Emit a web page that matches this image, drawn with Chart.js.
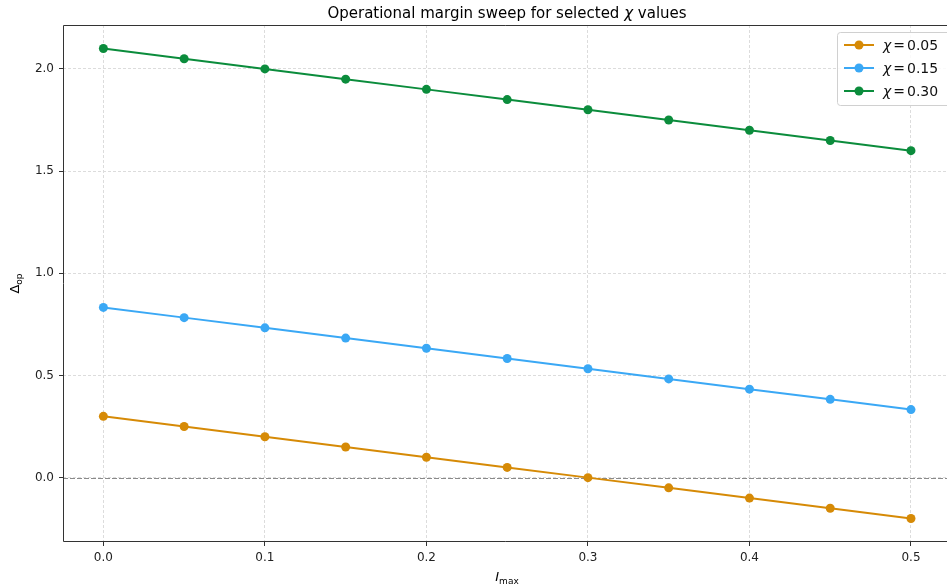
<!DOCTYPE html>
<html>
<head>
<meta charset="utf-8">
<script src="https://cdn.jsdelivr.net/npm/chart.js@4"></script>
<style>
  html, body { margin: 0; padding: 0; background: #fff; overflow: hidden; }
  #chart { display: block; }
</style>
</head>
<body>
<canvas id="chart" width="947" height="586"></canvas>
<script>
const iMax = [0, 0.05, 0.1, 0.15, 0.2, 0.25, 0.3, 0.35, 0.4, 0.45, 0.5];
const chiLabels = ['0.05', '0.15', '0.30'];
const chi005 = [0.30, 0.25, 0.20, 0.15, 0.10, 0.05, 0.00, -0.05, -0.10, -0.15, -0.20];
const chi015 = [0.833, 0.783, 0.733, 0.683, 0.633, 0.583, 0.533, 0.483, 0.433, 0.383, 0.333];
const chi030 = [2.10, 2.05, 2.00, 1.95, 1.90, 1.85, 1.80, 1.75, 1.70, 1.65, 1.60];
const xTicks = [0, 0.1, 0.2, 0.3, 0.4, 0.5];
const yTicks = [0, 0.5, 1.0, 1.5, 2.0];
const colors = ['#d68a06', '#3aa8f5', '#0b8c3c'];

const FONT = '"DejaVu Sans", sans-serif';

function series(vals, i) {
    return {
        label: chiLabels[i],
        data: iMax.map((x, k) => ({ x: x, y: vals[k] })),
        borderColor: colors[i],
        backgroundColor: colors[i],
        borderWidth: 2,
        pointRadius: 4.5,
        pointHoverRadius: 4.5,
        pointBorderWidth: 0
    };
}

// title, axis titles, zero line, spines and legend
const extras = {
    id: 'extras',
    beforeDatasetsDraw(chart) {
        const { ctx, chartArea: a, scales } = chart;
        const y0 = Math.round(scales.y.getPixelForValue(0)) + 0.5;
        ctx.save();
        ctx.strokeStyle = '#8a8a8a';
        ctx.lineWidth = 1;
        ctx.setLineDash([5, 2]);
        ctx.beginPath();
        ctx.moveTo(a.left, y0);
        ctx.lineTo(a.right, y0);
        ctx.stroke();
        ctx.restore();
    },
    afterDraw(chart) {
        const { ctx, chartArea: a } = chart;
        ctx.save();
        // spines (the right one falls just past the picture edge)
        ctx.strokeStyle = '#333';
        ctx.lineWidth = 1;
        ctx.beginPath();
        ctx.moveTo(a.right, a.top + 0.5);
        ctx.lineTo(a.left + 0.5, a.top + 0.5);
        ctx.lineTo(a.left + 0.5, a.bottom - 0.5);
        ctx.lineTo(a.right, a.bottom - 0.5);
        ctx.stroke();

        // title
        const cx = 507;
        ctx.fillStyle = '#000';
        ctx.textBaseline = 'alphabetic';
        ctx.textAlign = 'left';
        const t1 = 'Operational margin sweep for selected ';
        const t2 = ' values';
        ctx.font = '15px ' + FONT;
        const w1 = ctx.measureText(t1).width;
        const w3 = ctx.measureText(t2).width;
        ctx.font = 'italic 15px ' + FONT;
        const w2 = ctx.measureText('χ').width;
        let x = cx - (w1 + w2 + w3) / 2;
        ctx.font = '15px ' + FONT;
        ctx.fillText(t1, x, 18);
        ctx.font = 'italic 15px ' + FONT;
        ctx.fillText('χ', x + w1, 18);
        ctx.font = '15px ' + FONT;
        ctx.fillText(t2, x + w1 + w2, 18);

        // x axis title
        ctx.font = 'italic 13px ' + FONT;
        const wi = ctx.measureText('I').width;
        ctx.font = '9px ' + FONT;
        const wm = ctx.measureText('max').width;
        x = cx - (wi + wm) / 2;
        ctx.font = 'italic 13px ' + FONT;
        ctx.fillText('I', x, 581);
        ctx.font = '9px ' + FONT;
        ctx.fillText('max', x + wi, 584);

        // y axis title
        ctx.save();
        ctx.translate(19, (a.top + a.bottom) / 2);
        ctx.rotate(-Math.PI / 2);
        ctx.font = '13px ' + FONT;
        const wd = ctx.measureText('Δ').width;
        ctx.font = '9px ' + FONT;
        const wo = ctx.measureText('op').width;
        ctx.font = '13px ' + FONT;
        ctx.fillText('Δ', -(wd + wo) / 2, 0);
        ctx.font = '9px ' + FONT;
        ctx.fillText('op', -(wd + wo) / 2 + wd, 3);
        ctx.restore();

        // legend
        const lx = 837, ly = 32, lw = 115, lh = 73;
        ctx.fillStyle = 'rgba(255,255,255,0.85)';
        ctx.strokeStyle = '#d0d0d0';
        ctx.lineWidth = 1;
        ctx.beginPath();
        ctx.roundRect(lx + 0.5, ly + 0.5, lw, lh, 3);
        ctx.fill();
        ctx.stroke();
        chart.data.datasets.forEach((ds, i) => {
            const yy = ly + 13 + i * 23;
            ctx.strokeStyle = ds.borderColor;
            ctx.lineWidth = 2;
            ctx.beginPath();
            ctx.moveTo(lx + 7, yy);
            ctx.lineTo(lx + 37, yy);
            ctx.stroke();
            ctx.fillStyle = ds.borderColor;
            ctx.beginPath();
            ctx.arc(lx + 22, yy, 4.5, 0, Math.PI * 2);
            ctx.fill();
            ctx.fillStyle = '#111';
            ctx.textBaseline = 'middle';
            ctx.font = 'italic 14px ' + FONT;
            ctx.fillText('χ', lx + 46, yy + 1);
            const wc = ctx.measureText('χ').width;
            ctx.font = '14px ' + FONT;
            ctx.fillText('=', lx + 46 + wc + 2, yy + 1);
            const we = ctx.measureText('=').width;
            ctx.fillText(ds.label, lx + 46 + wc + we + 4, yy + 1);
        });
        ctx.restore();
    }
};

const axisGrid = {
    color: '#dcdcdc',
    tickColor: '#333',
    tickBorderDash: [],
    tickLength: 4
};

new Chart(document.getElementById('chart'), {
    type: 'line',
    data: {
        datasets: [series(chi005, 0), series(chi015, 1), series(chi030, 2)]
    },
    options: {
        responsive: false,
        animation: false,
        layout: { autoPadding: false, padding: { top: 25, right: 0, left: 0, bottom: 0 } },
        plugins: {
            legend: { display: false },
            title: { display: false },
            tooltip: { enabled: false }
        },
        scales: {
            x: {
                type: 'linear',
                min: -0.025,
                max: 0.5223,
                afterBuildTicks: s => { s.ticks = xTicks.map(v => ({ value: v })); },
                afterFit: s => {
                    s.height = 44;
                    s.paddingLeft = 0;
                    s.paddingRight = 0;
                },
                ticks: {
                    color: '#222',
                    font: { family: FONT, size: 12 },
                    padding: 5,
                    maxRotation: 0,
                    callback: v => v.toFixed(1)
                },
                grid: axisGrid,
                border: { display: false, dash: [3, 2] }
            },
            y: {
                type: 'linear',
                min: -0.315,
                max: 2.215,
                afterBuildTicks: s => { s.ticks = yTicks.map(v => ({ value: v })); },
                afterFit: s => {
                    s.width = 63;
                    s.paddingTop = 0;
                    s.paddingBottom = 0;
                },
                ticks: {
                    color: '#222',
                    font: { family: FONT, size: 12 },
                    padding: 5,
                    callback: v => v.toFixed(1)
                },
                grid: axisGrid,
                border: { display: false, dash: [3, 2] }
            }
        }
    },
    plugins: [extras]
});
</script>
</body>
</html>
